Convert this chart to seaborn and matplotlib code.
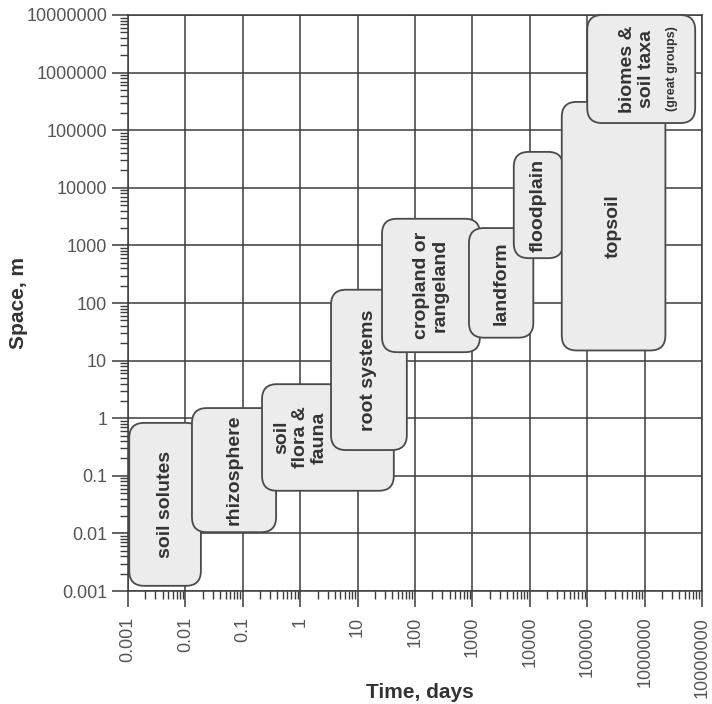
import numpy as np
import matplotlib
matplotlib.use("Agg")
import matplotlib.pyplot as plt
from matplotlib.patches import FancyBboxPatch
from matplotlib.ticker import LogLocator, FixedFormatter, FixedLocator, NullFormatter
import seaborn as sns

# Scales of soil processes: time span (days) versus spatial extent (m)
categories = ["soil solutes", "rhizosphere", "soil\nflora &\nfauna", "root systems",
              "cropland or\nrangeland", "landform", "floodplain", "topsoil",
              "biomes &\nsoil taxa"]
time_min = [0.00105, 0.013, 0.216, 3.44, 26.6, 870, 5250, 36000, 1.0e5]
time_max = [0.0186, 0.38, 42.7, 72, 1350, 11500, 38000, 2.3e6, 7.6e6]
space_min = [0.00123, 0.0105, 0.055, 0.28, 14, 25, 600, 15, 1.33e5]
space_max = [0.83, 1.5, 3.9, 170, 2900, 2000, 42000, 310000, 1.0e7]
sublabel = "(great groups)"

decades = [0.001, 0.01, 0.1, 1, 10, 100, 1000, 10000, 100000, 1000000, 10000000]
tick_labels = ["0.001", "0.01", "0.1", "1", "10", "100", "1000", "10000",
               "100000", "1000000", "10000000"]

sns.set_theme(style="ticks")
plt.rcParams["font.family"] = ["Liberation Sans", "DejaVu Sans"]

fig = plt.figure(figsize=(7.12, 7.04), dpi=100)
ax = fig.add_axes([0.1798, 0.1605, 0.8062, 0.8182])
ax.set_xscale("log")
ax.set_yscale("log")
ax.set_xlim(decades[0], decades[-1])
ax.set_ylim(decades[0], decades[-1])

grid_c = "#3c3c3c"
text_c = "#333333"
tick_c = "#555555"

ax.xaxis.set_major_locator(FixedLocator(decades))
ax.yaxis.set_major_locator(FixedLocator(decades))
ax.xaxis.set_major_formatter(FixedFormatter(tick_labels))
ax.yaxis.set_major_formatter(FixedFormatter(tick_labels))
ax.xaxis.set_minor_locator(LogLocator(base=10, subs=np.arange(2, 10), numticks=20))
ax.yaxis.set_minor_locator(LogLocator(base=10, subs=np.arange(2, 10), numticks=20))
ax.xaxis.set_minor_formatter(NullFormatter())
ax.yaxis.set_minor_formatter(NullFormatter())

ax.grid(True, which="major", color=grid_c, linewidth=1.1)
ax.set_axisbelow(True)
for sp in ax.spines.values():
    sp.set_color(grid_c)
    sp.set_linewidth(1.1)

ax.tick_params(axis="both", which="major", direction="out", length=11.5, width=1.1,
               color=grid_c, labelsize=13, labelcolor=tick_c)
ax.tick_params(axis="both", which="minor", direction="out", length=5.8, width=1.0,
               color=grid_c)
ax.tick_params(axis="x", which="major", pad=7, labelrotation=90)
ax.tick_params(axis="y", which="major", pad=3.5)

ax.set_xlabel("Time, days", fontsize=15, fontweight="bold", color=text_c)
ax.set_ylabel("Space, m", fontsize=15, fontweight="bold", color=text_c)
ax.xaxis.set_label_coords(0.509, -0.16)
ax.yaxis.set_label_coords(-0.174, 0.5)

# Draw the rounded boxes in axes fractions so the corners stay circular
to_axes = ax.transData + ax.transAxes.inverted()
label_dx = [0, 0, -20, 0, 0, 0, 0, 0, -3]
for i, name in enumerate(categories):
    (x0, y0) = to_axes.transform((time_min[i], space_min[i]))
    (x1, y1) = to_axes.transform((time_max[i], space_max[i]))
    box = FancyBboxPatch((x0, y0), x1 - x0, y1 - y0,
                         boxstyle="round,pad=0,rounding_size=0.026",
                         transform=ax.transAxes, facecolor="#ececec",
                         edgecolor="#4a4a4a", linewidth=1.3, zorder=3 + i,
                         clip_on=False)
    ax.add_patch(box)
    xc = np.sqrt(time_min[i] * time_max[i])
    yc = np.sqrt(space_min[i] * space_max[i])
    ax.annotate(name, (xc, yc), xytext=(label_dx[i], 0), textcoords="offset points",
                rotation=90, ha="center", va="center", multialignment="center",
                fontsize=14, fontweight="bold", color=text_c, linespacing=1.12,
                zorder=3 + i, annotation_clip=False)
    if i == len(categories) - 1:
        ax.annotate(sublabel, (xc, yc), xytext=(22, 0), textcoords="offset points",
                    rotation=90, ha="center", va="center", fontsize=9,
                    fontweight="bold", color=text_c, zorder=3 + i,
                    annotation_clip=False)

fig.savefig("out.png", dpi=100)
